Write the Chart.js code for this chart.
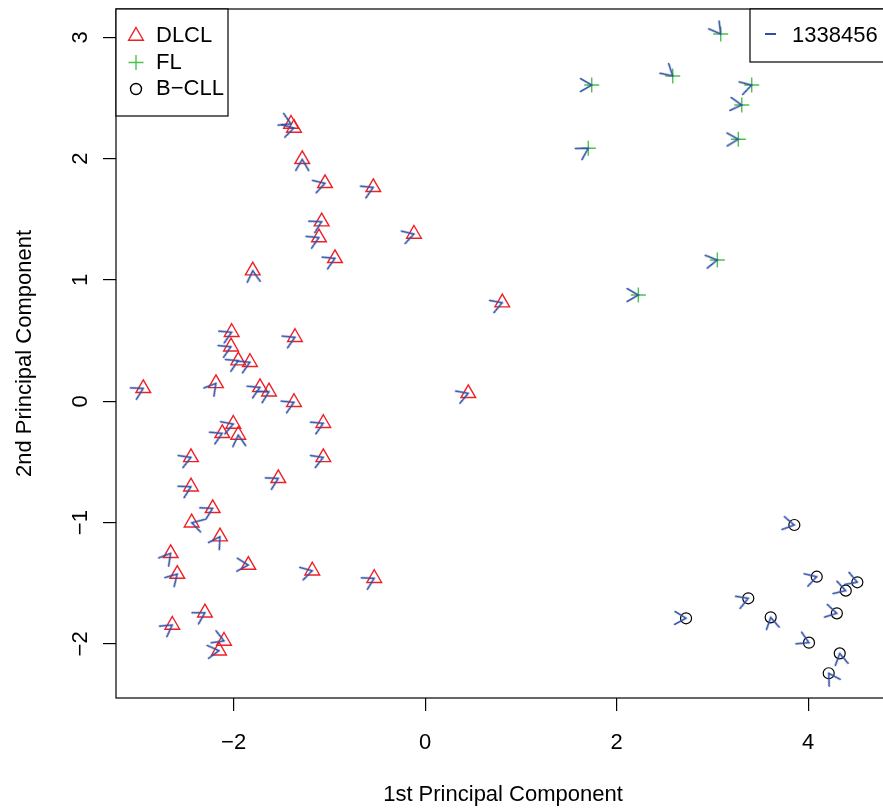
<!DOCTYPE html>
<html>
<head>
<meta charset="utf-8">
<script src="https://cdn.jsdelivr.net/npm/chart.js@4.4.0/dist/chart.umd.min.js"></script>
<style>
  html, body { margin: 0; padding: 0; background: #fff; overflow: hidden; }
  #wrap { width: 890px; height: 812px; }
</style>
</head>
<body>
<div id="wrap"><canvas id="pca" width="890" height="812"></canvas></div>
<script>
// PCA scores, one array per group
var dlclX = [-2.943, -2.184, -2.020, -2.027, -1.951, -1.829, -1.359, -1.724, -1.630, -1.369,
             -2.003, -2.118, -1.951, -1.063, -1.063, -2.445, -2.445, -1.533, -2.218, -2.438,
             -2.142, -2.657, -2.588, -1.846, -1.178, -0.531, -2.299, -2.640, -2.100, -2.152,
             -1.400, -1.369, -1.283, -1.045, -0.541, -1.080, -1.108, -0.941, -0.116, -1.800,
              0.806,  0.451];
var dlclY = [ 0.107,  0.148,  0.569,  0.450,  0.335,  0.322,  0.528,  0.115,  0.079, -0.008,
             -0.187, -0.264, -0.278, -0.181, -0.462, -0.462, -0.704, -0.635, -0.882, -1.001,
             -1.116, -1.253, -1.424, -1.350, -1.397, -1.459, -1.743, -1.844, -1.976, -2.056,
              2.286,  2.253,  1.995,  1.797,  1.764,  1.481,  1.350,  1.179,  1.379,  1.077,
              0.813,  0.066];
// direction of the gene arrow at each sample (degrees, counter-clockwise from +x)
var dlclDir = [28, 51, 25, 25, 25, 25, 25, 25, 28, 25,
               20, 25, 95, 25, 22, 22, 28, 28, 28, 164,
               57, 51, 46, -2, 15, 28, 30, 35, -22, 6,
               -25, 15, 90, 17, 25, 28, 25, 25, 17, 95,
               20, 20];

var flX = [3.087, 1.740, 2.586, 3.411, 3.307, 3.271, 1.704, 3.052, 2.227];
var flY = [3.028, 2.607, 2.682, 2.607, 2.443, 2.160, 2.086, 1.165, 0.876];
var flDir = [-53, 0, -42, 16, -5, 1, 31, 9, 0];

var cllX = [3.856, 4.090, 4.514, 4.393, 3.375, 2.725, 3.609, 4.300, 4.009, 4.330, 4.215];
var cllY = [-1.020, -1.446, -1.492, -1.561, -1.624, -1.789, -1.781, -1.748, -1.990, -2.078, -2.242];
var cllDir = [-10, 17, -20, -17, 21, -2, 101, -13, -25, 100, 122];

var xTicks = [-2, 0, 2, 4];
var yTicks = [-2, -1, 0, 1, 2, 3];
var groupNames = ['DLCL', 'FL', 'B\u2212CLL'];
var geneName = '1338456';

var RED = '#ee2026', GREEN = '#4cc24c', BLACK = '#000000', BLUE = '#2f4fa6';
var FONT = '"Liberation Sans", Arial, Helvetica, sans-serif';

function pts(xs, ys) {
  return xs.map(function (x, i) { return {x: x, y: ys[i]}; });
}

function fmt(v) {
  return v < 0 ? '\u2212' + Math.abs(v) : String(v);
}

// arrow head with its tip at the centre, pointing to +x
function makeArrow(len, color) {
  var c = document.createElement('canvas');
  var s = Math.ceil(len * 2 + 4);
  c.width = s; c.height = s;
  var g = c.getContext('2d');
  var m = s / 2;
  var dx = len * Math.cos(Math.PI / 6), dy = len * Math.sin(Math.PI / 6);
  g.strokeStyle = color; g.lineWidth = 1.5; g.lineCap = 'round';
  g.beginPath();
  g.moveTo(m - dx, m - dy); g.lineTo(m, m); g.lineTo(m - dx, m + dy);
  g.stroke();
  return c;
}
var arrowImg = makeArrow(13, BLUE);

function arrowSet(xs, ys, dirs) {
  return {
    label: geneName,
    data: pts(xs, ys),
    pointStyle: arrowImg,
    pointRadius: 8,
    pointRotation: dirs.map(function (a) { return -a; }),
    showLine: false,
    order: 0
  };
}

function noPad(s) {
  s.paddingTop = 0; s.paddingBottom = 0; s.paddingLeft = 0; s.paddingRight = 0;
}

var frame = {
  id: 'frame',
  afterDraw: function (chart) {
    var ctx = chart.ctx, a = chart.chartArea;
    ctx.save();
    ctx.strokeStyle = '#000';
    ctx.lineWidth = 1.2;
    ctx.strokeRect(a.left, a.top, a.right - a.left, a.bottom - a.top);

    // group legend (top left)
    ctx.fillStyle = '#fff';
    ctx.fillRect(a.left, a.top, 112, 107);
    ctx.strokeRect(a.left, a.top, 112, 107);
    ctx.font = '22px ' + FONT;
    ctx.textBaseline = 'middle';
    ctx.textAlign = 'left';
    ctx.fillStyle = '#000';
    var sx = 136, rows = [36, 62.5, 89];
    ctx.lineWidth = 1.4;
    // triangle
    var r = 8.5, y0 = rows[0];
    ctx.strokeStyle = RED;
    ctx.beginPath();
    ctx.moveTo(sx, y0 - r);
    ctx.lineTo(sx + r * Math.sin(2 * Math.PI / 3), y0 - r * Math.cos(2 * Math.PI / 3));
    ctx.lineTo(sx + r * Math.sin(4 * Math.PI / 3), y0 - r * Math.cos(4 * Math.PI / 3));
    ctx.closePath();
    ctx.stroke();
    // plus
    ctx.strokeStyle = GREEN;
    ctx.beginPath();
    ctx.moveTo(sx - 7.5, rows[1]); ctx.lineTo(sx + 7.5, rows[1]);
    ctx.moveTo(sx, rows[1] - 7.5); ctx.lineTo(sx, rows[1] + 7.5);
    ctx.stroke();
    // circle
    ctx.strokeStyle = BLACK;
    ctx.beginPath();
    ctx.arc(sx, rows[2], 5.5, 0, Math.PI * 2);
    ctx.stroke();
    for (var i = 0; i < groupNames.length; i++) {
      ctx.fillText(groupNames[i], 156, rows[i]);
    }

    // gene legend (top right)
    ctx.strokeStyle = '#000';
    ctx.lineWidth = 1.2;
    ctx.fillStyle = '#fff';
    ctx.fillRect(750, a.top, 160, 53);
    ctx.strokeRect(750, a.top, 160, 53);
    ctx.strokeStyle = BLUE;
    ctx.lineWidth = 2;
    ctx.beginPath();
    ctx.moveTo(765, 34); ctx.lineTo(776, 34);
    ctx.stroke();
    ctx.fillStyle = '#000';
    ctx.fillText(geneName, 792, 35.5);
    ctx.restore();
  }
};

new Chart(document.getElementById('pca'), {
  type: 'scatter',
  data: {
    datasets: [
      {label: 'DLCL', data: pts(dlclX, dlclY), pointStyle: 'triangle', pointRadius: 8.5,
       pointBorderColor: RED, pointBackgroundColor: 'rgba(0,0,0,0)', pointBorderWidth: 1.4, order: 1},
      {label: 'FL', data: pts(flX, flY), pointStyle: 'cross', pointRadius: 7.5,
       pointBorderColor: GREEN, pointBackgroundColor: 'rgba(0,0,0,0)', pointBorderWidth: 1.4, order: 1},
      {label: 'B-CLL', data: pts(cllX, cllY), pointStyle: 'circle', pointRadius: 5.5,
       pointBorderColor: BLACK, pointBackgroundColor: 'rgba(0,0,0,0)', pointBorderWidth: 1.2, order: 1},
      arrowSet(dlclX, dlclY, dlclDir),
      arrowSet(flX, flY, flDir),
      arrowSet(cllX, cllY, cllDir)
    ]
  },
  options: {
    responsive: false,
    animation: false,
    events: [],
    layout: {autoPadding: false, padding: {top: 9, left: 0, right: 0, bottom: 0}},
    plugins: {legend: {display: false}, tooltip: {enabled: false}},
    scales: {
      x: {
        type: 'linear',
        min: -3.228,
        max: 4.855,
        afterBuildTicks: function (s) { s.ticks = xTicks.map(function (v) { return {value: v}; }); },
        afterFit: function (s) { s.height = 114; noPad(s); },
        grid: {drawOnChartArea: false, drawTicks: true, tickLength: 13, color: '#000', lineWidth: 1.2},
        border: {display: false},
        ticks: {color: '#000', font: {family: FONT, size: 22}, padding: 19, maxRotation: 0, autoSkip: false, callback: fmt},
        title: {display: true, text: '1st Principal Component', color: '#000',
                font: {family: FONT, size: 22}, padding: {top: 0, bottom: 4}}
      },
      y: {
        type: 'linear',
        min: -2.446,
        max: 3.234,
        afterBuildTicks: function (s) { s.ticks = yTicks.map(function (v) { return {value: v}; }); },
        afterFit: function (s) { s.width = 116; noPad(s); },
        grid: {drawOnChartArea: false, drawTicks: true, tickLength: 13, color: '#000', lineWidth: 1.2},
        border: {display: false},
        ticks: {color: '#000', font: {family: FONT, size: 22}, padding: 9.5, minRotation: 90, maxRotation: 90,
                crossAlign: 'center', autoSkip: false, callback: fmt},
        title: {display: true, text: '2nd Principal Component', color: '#000',
                font: {family: FONT, size: 22}, padding: {top: 12, bottom: 0}}
      }
    }
  },
  plugins: [frame]
});
</script>
</body>
</html>
